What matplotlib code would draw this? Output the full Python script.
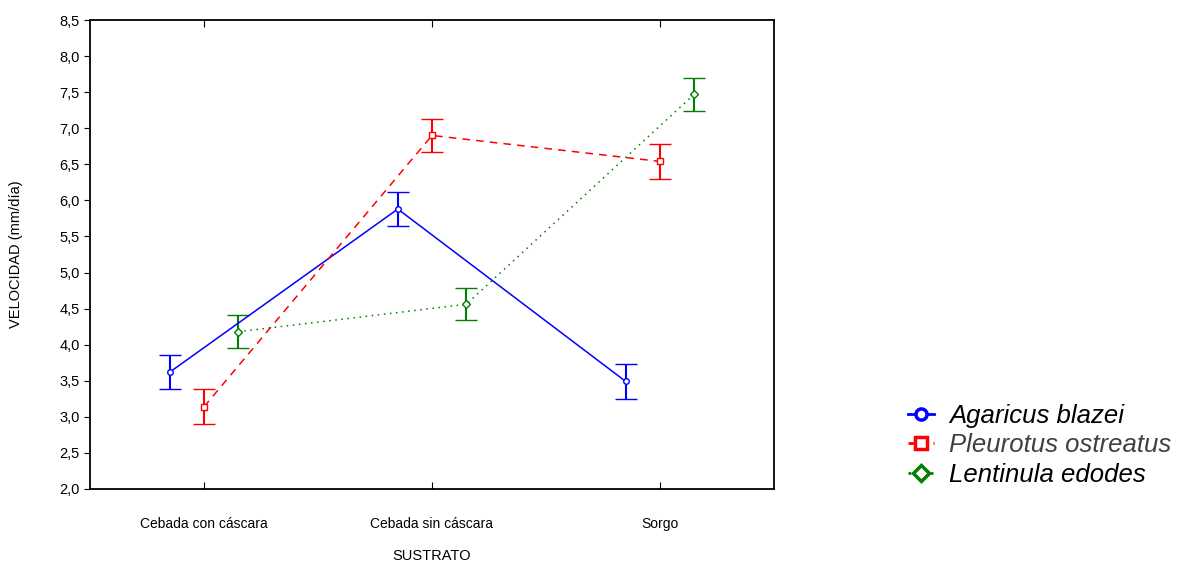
import numpy as np
import matplotlib.pyplot as plt
from matplotlib.lines import Line2D

plt.rcParams['font.family'] = ['Liberation Sans', 'DejaVu Sans']

# substrates on the x axis
sustratos = ['Cebada con cáscara', 'Cebada sin cáscara', 'Sorgo']

# mean growth rate (mm/día) per species
agaricus = [3.62, 5.88, 3.49]
pleurotus = [3.14, 6.90, 6.54]
lentinula = [4.18, 4.56, 7.47]

# half length of the error bars
err_agaricus = [0.24, 0.23, 0.24]
err_pleurotus = [0.24, 0.23, 0.24]
err_lentinula = [0.23, 0.22, 0.23]

y_ticks = np.arange(2.0, 8.51, 0.5)

fig = plt.figure(figsize=(11.81, 5.65), dpi=100)
ax = fig.add_axes([90 / 1181, 76 / 565, 684 / 1181, 469 / 565])

x = np.arange(len(sustratos))
series = [
    (agaricus, err_agaricus, -0.15, '#0000ff', '-', 'o', 'Agaricus blazei'),
    (pleurotus, err_pleurotus, 0.0, '#ff0000', (0, (5, 4)), 's', 'Pleurotus ostreatus'),
    (lentinula, err_lentinula, 0.15, '#008000', (0, (1, 3)), 'D', 'Lentinula edodes'),
]
handles = []
for vals, errs, off, col, ls, mk, name in series:
    ax.errorbar(x + off, vals, yerr=errs, color=col, linestyle=ls, lw=1.1,
                marker=mk, markersize=4, markerfacecolor='white',
                markeredgecolor=col, markeredgewidth=1.0,
                capsize=8, elinewidth=1.5, capthick=1.5)
    handles.append(Line2D([], [], color=col, linestyle=ls, lw=2, marker=mk,
                          markersize=8, markerfacecolor='white',
                          markeredgecolor=col, markeredgewidth=2.5, label=name))

ax.set_xlim(-0.5, 2.5)
ax.set_ylim(2.0, 8.5)
ax.set_xticks(x)
ax.set_xticklabels(sustratos, fontsize=10)
ax.set_yticks(y_ticks)
ax.set_yticklabels([f'{v:.1f}'.replace('.', ',') for v in y_ticks], fontsize=10.5)
ax.tick_params(axis='x', direction='in', top=True, length=5, pad=20)
ax.tick_params(axis='y', direction='out', length=4)
for s in ax.spines.values():
    s.set_linewidth(1.3)

ax.set_xlabel('SUSTRATO', fontsize=10.5, labelpad=13)
ax.set_ylabel('VELOCIDAD (mm/día)', fontsize=10.5, labelpad=26)

leg = fig.legend(handles=handles, loc='upper left', bbox_to_anchor=(898 / 1181, 1 - 394 / 565),
                 frameon=False, prop={'style': 'italic', 'size': 18.5},
                 handlelength=1.0, handletextpad=0.6, labelspacing=0.2,
                 borderaxespad=0)
leg.get_texts()[1].set_color('#404040')

fig.savefig('out.png', dpi=100)
